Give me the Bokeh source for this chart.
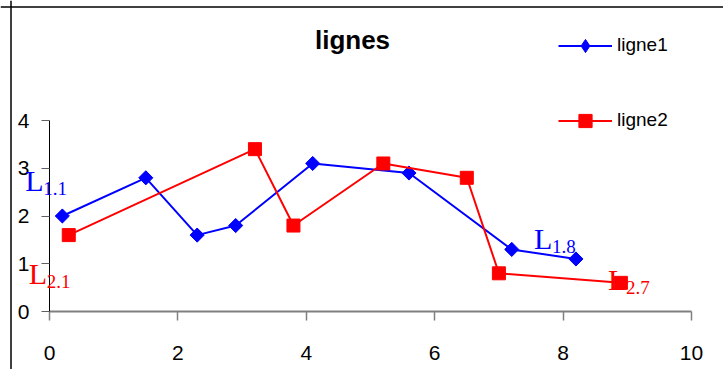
from bokeh.plotting import figure
from bokeh.models import Label, Legend, LegendItem, Range1d, FixedTicker, Span
from bokeh.embed import file_html
from bokeh.resources import INLINE
import math

# data
x1 = [0.2, 1.5, 2.3, 2.9, 4.1, 5.6, 7.2, 8.2]
y1 = [2.0, 2.8, 1.6, 1.8, 3.1, 2.9, 1.3, 1.1]
x2 = [0.3, 3.2, 3.8, 5.2, 6.5, 7.0, 8.9]
y2 = [1.6, 3.4, 1.8, 3.1, 2.8, 0.8, 0.6]
series_names = ["ligne1", "ligne2"]
title_text = "lignes"
x_ticks = [0, 2, 4, 6, 8, 10]
y_ticks = [0, 1, 2, 3, 4]
x_bounds = (0, 10)
y_bounds = (0, 4)
# data labels: (series, point index, main text, subscript)
label_series = [1, 2, 1, 2]
label_index = [0, 0, 7, 6]
label_main = ["L", "L", "L", "L"]
label_sub = ["1.1", "2.1", "1.8", "2.7"]

W, H = 723, 369
# frame fills the canvas; pixel positions of the data area inside it
FX0, FX1, FY0, FY1 = 49, 691, 311, 120   # x of 0 / 10, y of 0 / 4 (from top)
sx = (FX1 - FX0) / (x_bounds[1] - x_bounds[0])
sy = (FY0 - FY1) / (y_bounds[1] - y_bounds[0])
xr = Range1d(x_bounds[0] - FX0 / sx, x_bounds[1] + (W - FX1) / sx)
yr = Range1d(y_bounds[0] - (H - FY0) / sy, y_bounds[1] + FY1 / sy)

p = figure(width=W, height=H, output_backend="svg", toolbar_location=None,
           x_range=xr, y_range=yr, title_location=None,
           min_border_left=0, min_border_right=0, min_border_top=0, min_border_bottom=0)
p.outline_line_color = None
p.grid.visible = False
p.background_fill_color = "white"
p.border_fill_color = "white"

for ax, ticks, loc, bnd in ((p.xaxis[0], x_ticks, 0, x_bounds), (p.yaxis[0], y_ticks, 0, y_bounds)):
    ax.ticker = FixedTicker(ticks=ticks)
    ax.fixed_location = loc
    ax.bounds = bnd
    ax.minor_tick_line_color = None
    ax.major_tick_in = 0
    ax.major_label_text_font = "Liberation Sans"
    ax.major_label_text_font_size = "21px"
    ax.major_label_text_color = "black"

p.xaxis.axis_line_color = "#808080"
p.xaxis.axis_line_width = 2
p.xaxis.major_tick_line_color = "#808080"
p.xaxis.major_tick_line_width = 1.5
p.xaxis.major_tick_out = 9
p.xaxis.major_label_standoff = 25

p.yaxis.axis_line_color = "black"
p.yaxis.axis_line_width = 1
p.yaxis.major_tick_line_color = "#606060"
p.yaxis.major_tick_out = 8
p.yaxis.major_label_standoff = 12

# chart-area border (top and left edges), placed at fixed pixel offsets of the canvas
BORDER_TOP_PX, BORDER_LEFT_PX = 6.5, 10.5
p.add_layout(Span(location=y_bounds[1] + (FY1 - BORDER_TOP_PX) / sy, dimension="width",
                  line_color="#404040", line_width=2))
p.add_layout(Span(location=x_bounds[0] - (FX0 - BORDER_LEFT_PX) / sx, dimension="height",
                  line_color="black", line_width=1.5))

l1 = p.line(x1, y1, line_color="#0000FF", line_width=2)
# diamond (used for the legend swatch) sits under the rotated squares
k1 = p.scatter(x1, y1, marker="diamond", size=13, fill_color="#0000FF", line_color="#0000FF")
m1 = p.scatter(x1, y1, marker="square", size=10, angle=math.pi / 4,
               fill_color="#0000FF", line_color="#0000FF")
l2 = p.line(x2, y2, line_color="#FF0000", line_width=2)
m2 = p.scatter(x2, y2, marker="square", size=13,
               fill_color="#FF0000", line_color="#FF0000")

GH = 33
legend = Legend(items=[LegendItem(label=series_names[0], renderers=[l1, k1]),
                       LegendItem(label=series_names[1], renderers=[l2, m2])],
                location=(558, H - (120 + GH / 2)), orientation="vertical",
                spacing=75 - GH, padding=0, margin=0,
                glyph_width=54, glyph_height=GH, label_height=22,
                label_standoff=5, label_text_font="Liberation Sans",
                label_text_font_size="19px", label_text_color="black",
                border_line_color=None, background_fill_alpha=0)
p.add_layout(legend, "center")

title = Label(x=352, y=H - 39, x_units="screen", y_units="screen", text=title_text,
              text_font="Liberation Sans", text_font_size="26px", text_font_style="bold",
              text_color="black", text_align="center", text_baseline="alphabetic")
p.add_layout(title)

offsets_main = [(-37, 36), (-40, -38), (-42, 20), (-13, 3)]
offsets_sub = [(-19, 28), (-22, -46), (-24, 12), (5, -5)]
for s, i, mt, st, om, os_ in zip(label_series, label_index, label_main, label_sub,
                                 offsets_main, offsets_sub):
    xs, ys = (x1, y1) if s == 1 else (x2, y2)
    col = "#0000FF" if s == 1 else "#FF0000"
    p.add_layout(Label(x=xs[i], y=ys[i], x_offset=om[0], y_offset=om[1], text=mt,
                       text_font="Liberation Serif", text_font_size="30px",
                       text_color=col, text_baseline="alphabetic"))
    p.add_layout(Label(x=xs[i], y=ys[i], x_offset=os_[0], y_offset=os_[1], text=st,
                       text_font="Liberation Serif", text_font_size="19px",
                       text_color=col, text_baseline="alphabetic"))

open("out.html", "w").write(file_html(p, INLINE))
